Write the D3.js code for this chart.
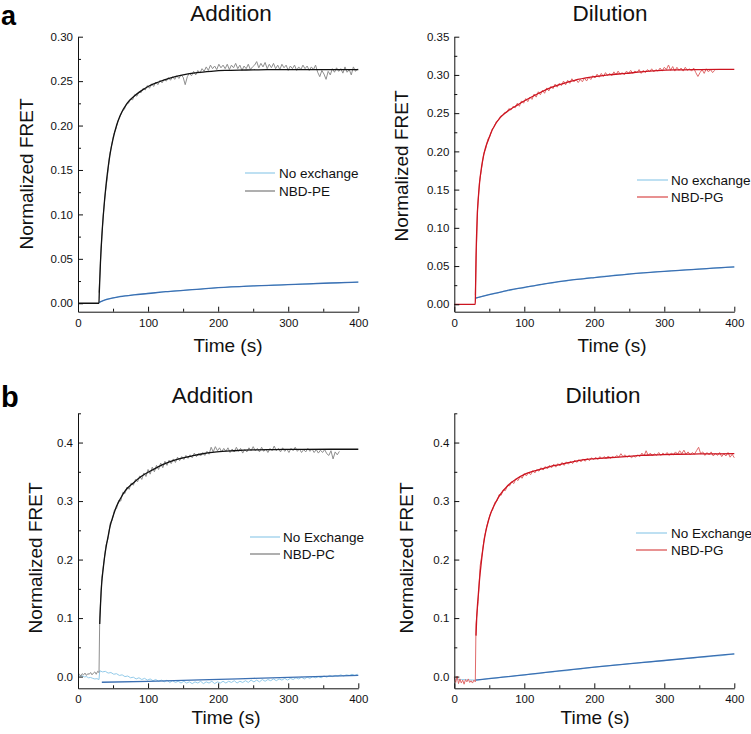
<!DOCTYPE html>
<html><head><meta charset="utf-8">
<script src="https://cdn.jsdelivr.net/npm/d3@7"></script>
<style>
body{margin:0;background:#fff;}
svg{display:block;font-family:"Liberation Sans",Arial,Helvetica,sans-serif;}
</style>
</head><body>
<svg id="chart" width="751" height="734"></svg>
<script>
// ---------------- DATA ----------------
const xTicks = [0, 100, 200, 300, 400];
const xMinor = [50, 150, 250, 350];
const yTicksA1 = [0, 0.05, 0.10, 0.15, 0.20, 0.25, 0.30];
const yMinorA1 = [0.025, 0.075, 0.125, 0.175, 0.225, 0.275];
const yTicksA2 = [0, 0.05, 0.10, 0.15, 0.20, 0.25, 0.30, 0.35];
const yMinorA2 = [0.025, 0.075, 0.125, 0.175, 0.225, 0.275, 0.325];
const yTicksB = [0, 0.1, 0.2, 0.3, 0.4];
const yMinorB = [0.05, 0.15, 0.25, 0.35, 0.45];

const titles = ["Addition", "Dilution", "Addition", "Dilution"];
const legendA1 = ["No exchange", "NBD-PE"];
const legendA2 = ["No exchange", "NBD-PG"];
const legendB1 = ["No Exchange", "NBD-PC"];
const legendB2 = ["No Exchange", "NBD-PG"];

// ---- Panel a, Addition ----
const rawA1Start = 30, rawA1Step = 3;
const rawA1 = [0.012,0.062,0.099,0.124,0.143,0.166,0.178,0.190,0.196,0.205,0.210,0.216,0.218,0.224,0.225,0.230,0.229,0.235,0.233,0.238,
0.237,0.242,0.240,0.245,0.242,0.247,0.244,0.249,0.246,0.251,0.248,0.252,0.250,0.254,0.251,0.255,0.252,0.256,0.253,0.257,
0.2545,0.246,0.255,0.259,0.256,0.261,0.257,0.262,0.259,0.264,0.261,0.266,0.262,0.268,0.264,0.267,0.263,0.269,0.265,0.268,
0.264,0.269,0.263,0.268,0.265,0.270,0.264,0.268,0.262,0.267,0.264,0.269,0.263,0.266,0.268,0.272,0.265,0.270,0.266,0.271,
0.264,0.269,0.265,0.270,0.264,0.268,0.263,0.269,0.265,0.268,0.262,0.267,0.264,0.268,0.262,0.266,0.263,0.268,0.264,0.267,
0.262,0.266,0.263,0.268,0.260,0.255,0.262,0.258,0.252,0.261,0.257,0.264,0.260,0.265,0.261,0.264,0.259,0.266,0.260,0.263,
0.257,0.266,0.261,0.264];
const fitA1T = [0,29.9,30.3,32,34,36,38,40,43,46,50,55,60,70,80,90,100,115,130,150,170,190,210,240,270,300,350,400];
const fitA1V = [0,0,0.010,0.045,0.075,0.098,0.117,0.133,0.153,0.169,0.185,0.200,0.211,0.225,0.233,0.239,0.244,0.249,0.253,0.257,0.2595,0.261,0.262,0.2625,0.263,0.263,0.263,0.263];
const rawA1NoStart = 30, rawA1NoStep = 10;
const rawA1No = [0.0005,0.0045,0.0058,0.0079,0.0084,0.0098,0.0101,0.0113,0.0118,0.0129,0.0131,0.0142,0.0143,0.0153,0.0155,0.0166,0.0167,0.0177,0.0177,0.0186,
0.0186,0.0193,0.0194,0.0200,0.0199,0.0206,0.0205,0.0212,0.0212,0.0218,0.0217,0.0223,0.0223,0.0229,0.0228,0.0234,0.0233,0.0239];
const fitA1NoT = [30,40,50,60,80,100,125,150,175,200,250,300,350,400];
const fitA1NoV = [0.001,0.004,0.006,0.0075,0.0095,0.011,0.013,0.0145,0.016,0.0175,0.0195,0.021,0.0225,0.0237];

// ---- Panel a, Dilution ----
const rawA2Start = 30, rawA2Step = 3;
const rawA2 = [0.012,0.122,0.160,0.178,0.197,0.204,0.216,0.220,0.229,0.232,0.239,0.241,0.246,0.247,0.251,0.251,0.256,0.254,0.259,0.257,
0.263,0.259,0.266,0.263,0.269,0.265,0.271,0.268,0.275,0.271,0.278,0.274,0.280,0.276,0.283,0.279,0.285,0.282,0.288,0.284,
0.289,0.286,0.292,0.287,0.293,0.289,0.295,0.291,0.294,0.290,0.294,0.291,0.296,0.292,0.297,0.294,0.299,0.296,0.301,0.297,
0.302,0.298,0.303,0.299,0.302,0.299,0.304,0.300,0.305,0.301,0.303,0.300,0.305,0.302,0.306,0.302,0.305,0.303,0.307,0.302,
0.306,0.303,0.307,0.304,0.308,0.304,0.307,0.305,0.309,0.305,0.310,0.307,0.313,0.306,0.311,0.305,0.310,0.306,0.309,0.305,
0.310,0.306,0.308,0.305,0.309,0.303,0.298,0.303,0.307,0.302,0.308,0.304,0.307,0.303,0.306];
const fitA2T = [0,29.9,30.2,31,32,33,34,36,39,42,45,48.6,52,58,65,72,80,90,101,113,125,137,149,160,172,195,220,245,267,290,315,350,400];
const fitA2V = [0,0,0.01,0.06,0.095,0.12,0.135,0.158,0.18,0.195,0.206,0.215,0.2235,0.2345,0.2435,0.2495,0.2550,0.2605,0.2665,0.2725,0.278,0.283,0.287,0.290,0.293,0.297,0.300,0.302,0.304,0.3055,0.3065,0.307,0.3073];
const rawA2NoStart = 30, rawA2NoStep = 10;
const rawA2No = [0.0075,0.0105,0.0130,0.0142,0.0170,0.0181,0.0207,0.0215,0.0240,0.0247,0.0270,0.0276,0.0300,0.0303,0.0324,0.0328,0.0346,0.0349,0.0366,0.0369,
0.0384,0.0386,0.0400,0.0402,0.0414,0.0416,0.0428,0.0429,0.0440,0.0441,0.0452,0.0453,0.0463,0.0464,0.0474,0.0474,0.0484,0.0486];
const fitA2NoT = [30,50,75,100,125,150,175,200,250,300,350,400];
const fitA2NoV = [0.008,0.0125,0.018,0.022,0.026,0.0295,0.0325,0.035,0.0395,0.043,0.046,0.049];

// ---- Panel b, Addition ----
const rawB1PreStart = 0, rawB1PreStep = 2;
const rawB1Pre = [0.002,0.004,0.001,0.005,0.003,0.006,0.002,0.005,0.004,0.007,0.003,0.006,0.008,0.004,0.009,0.007];
const rawB1Start = 31, rawB1Step = 3;
const rawB1 = [0.100,0.168,0.196,0.225,0.236,0.262,0.268,0.285,0.287,0.301,0.300,0.315,0.313,0.324,0.320,0.331,0.327,0.337,0.333,0.343,
0.337,0.348,0.342,0.354,0.346,0.358,0.350,0.361,0.354,0.365,0.357,0.368,0.361,0.370,0.364,0.372,0.366,0.375,0.369,0.376,
0.371,0.378,0.373,0.379,0.374,0.382,0.376,0.381,0.377,0.383,0.378,0.385,0.380,0.392,0.384,0.393,0.386,0.391,0.384,0.390,
0.385,0.391,0.383,0.389,0.384,0.392,0.385,0.390,0.382,0.388,0.384,0.391,0.386,0.393,0.386,0.390,0.384,0.392,0.385,0.389,
0.383,0.390,0.386,0.394,0.386,0.390,0.384,0.391,0.385,0.389,0.383,0.390,0.386,0.392,0.385,0.389,0.383,0.388,0.384,0.390,
0.385,0.389,0.383,0.388,0.382,0.387,0.383,0.388,0.381,0.378,0.386,0.372,0.384,0.379,0.385];
const fitB1T = [31,32,33,34,36,38,40,43,46,50,55,60,67,79,90,102.7,115,126,138,150,162,174,198,222,250,280,320,400];
const fitB1V = [0.09,0.12,0.145,0.162,0.185,0.205,0.221,0.240,0.258,0.274,0.291,0.303,0.317,0.331,0.342,0.351,0.359,0.365,0.370,0.374,0.377,0.380,0.384,0.386,0.3875,0.388,0.3885,0.3886];
const rawB1NoPreStart = 0, rawB1NoPreStep = 3;
const rawB1NoPre = [0.002,0.001,0.0015,-0.0005,0.000,-0.002,-0.0015,-0.003,-0.004,-0.0035,-0.005];
const rawB1NoStart = 31, rawB1NoStep = 4;
const rawB1No = [0.010,0.008,0.009,0.006,0.007,0.004,0.005,0.002,0.003,0.000,0.001,-0.002,-0.001,-0.004,-0.002,-0.005,-0.003,-0.006,-0.004,-0.007,
-0.005,-0.008,-0.006,-0.009,-0.006,-0.010,-0.007,-0.010,-0.008,-0.011,-0.008,-0.011,-0.009,-0.012,-0.009,-0.011,-0.008,-0.012,-0.009,-0.011,
-0.008,-0.012,-0.009,-0.011,-0.008,-0.011,-0.008,-0.010,-0.007,-0.011,-0.008,-0.010,-0.007,-0.010,-0.006,-0.009,-0.006,-0.009,-0.005,-0.008,
-0.005,-0.007,-0.004,-0.007,-0.004,-0.006,-0.003,-0.006,-0.003,-0.005,-0.002,-0.004,-0.001,-0.004,-0.001,-0.003,0.000,-0.002,0.000,-0.002,
0.001,-0.001,0.002,0.000,0.002,0.001,0.003,0.001,0.003,0.002,0.004,0.002,0.004];
const fitB1NoT = [34,100,174,250,325,400];
const fitB1NoV = [-0.0097,-0.008,-0.0057,-0.003,-0.0005,0.002];

// ---- Panel b, Dilution ----
const rawB2PreStart = 0, rawB2PreStep = 2;
const rawB2Pre = [-0.002,-0.010,0.001,-0.012,-0.004,-0.011,-0.006,-0.013,-0.005,-0.009,-0.004,-0.010,-0.007,-0.011,-0.006,-0.009];
const rawB2Start = 31, rawB2Step = 3;
const rawB2 = [0.090,0.128,0.190,0.212,0.238,0.255,0.268,0.280,0.286,0.298,0.300,0.311,0.310,0.319,0.318,0.327,0.326,0.333,0.330,0.338,
0.335,0.342,0.339,0.347,0.343,0.349,0.345,0.352,0.348,0.354,0.351,0.357,0.353,0.359,0.355,0.361,0.357,0.363,0.358,0.364,
0.360,0.366,0.361,0.367,0.363,0.368,0.364,0.370,0.366,0.371,0.367,0.372,0.368,0.373,0.369,0.374,0.371,0.375,0.371,0.376,
0.372,0.376,0.373,0.377,0.373,0.376,0.374,0.378,0.375,0.381,0.376,0.379,0.375,0.378,0.374,0.377,0.375,0.379,0.376,0.382,
0.377,0.386,0.378,0.382,0.377,0.381,0.378,0.383,0.378,0.382,0.379,0.383,0.378,0.382,0.379,0.384,0.380,0.386,0.381,0.387,
0.380,0.384,0.379,0.383,0.380,0.386,0.392,0.381,0.384,0.378,0.383,0.379,0.384,0.377,0.382,0.378,0.383,0.376,0.381,0.377,
0.383,0.375,0.380,0.374];
const fitB2T = [31,32,33,34.3,36,39,42,45,48.6,53,58,65,77,89,101,113,125,137,149,160,172,196,220,245,267,290,315,350,400];
const fitB2V = [0.07,0.10,0.12,0.140,0.165,0.200,0.228,0.248,0.266,0.282,0.295,0.310,0.327,0.338,0.346,0.351,0.355,0.359,0.362,0.365,0.368,0.372,0.374,0.376,0.378,0.379,0.380,0.3805,0.381];
const rawB2NoStart = 0, rawB2NoStep = 10;
const rawB2No = [-0.004,-0.005,-0.0055,-0.006,-0.0050,-0.0030,-0.0025,-0.0005,0.000,0.002,0.0028,0.0045,0.005,0.007,0.0078,0.0095,0.010,0.012,0.0128,0.0148,
0.0160,0.0176,0.0185,0.0200,0.0207,0.0222,0.0228,0.0244,0.0250,0.0266,0.0272,0.0288,0.0294,0.0309,0.0314,0.0330,0.0335,0.0351,0.0355,0.0372,0.0385];
const fitB2NoT = [30,100,200,300,400];
const fitB2NoV = [-0.006,0.003,0.0163,0.0275,0.039];

// ---------------- HELPERS ----------------
const seq = (start, step, vals) => vals.map((v, i) => [start + i * step, v]);
const pairs = (ts, vs) => ts.map((t, i) => [t, vs[i]]);

const C = {
  rawBlue: "#93cbea", fitBlue: "#3b6fb2",
  rawGray: "#8e8e8e", fitBlack: "#111111",
  rawRed: "#e06a6a", fitRed: "#cc1420",
  legGray: "#7a7a7a", legRed: "#d94848"
};

const svg = d3.select("#chart");
const FONT = '"Liberation Sans", Arial, Helvetica, sans-serif';

const panels = [
  { x0: 78, x1: 358.3, yTop: 36.7, yBot: 311.7, yDom: [-0.0095, 0.30], yTicks: yTicksA1, yMinor: yMinorA1, fmt: ".2f",
    title: titles[0], tx: 231, ty: 21, timeX: 228, timeY: 352, ylX: 33, ylY: 174,
    series: [
      { d: seq(rawA1NoStart, rawA1NoStep, rawA1No), c: C.rawBlue, w: 1 },
      { d: pairs(fitA1NoT, fitA1NoV), c: C.fitBlue, w: 1.3 },
      { d: seq(rawA1Start, rawA1Step, rawA1), c: C.rawGray, w: 1 },
      { d: pairs(fitA1T, fitA1V), c: C.fitBlack, w: 1.3 }
    ],
    legend: { labels: legendA1, colors: [C.rawBlue, C.legGray], lx0: 245, lx1: 275, tx: 279, y: 173, dy: 18 } },
  { x0: 454.3, x1: 734.3, yTop: 36.7, yBot: 311.7, yDom: [-0.0097, 0.35], yTicks: yTicksA2, yMinor: yMinorA2, fmt: ".2f",
    title: titles[1], tx: 610, ty: 21, timeX: 612, timeY: 352, ylX: 407.5, ylY: 166,
    series: [
      { d: seq(rawA2NoStart, rawA2NoStep, rawA2No), c: C.rawBlue, w: 1 },
      { d: pairs(fitA2NoT, fitA2NoV), c: C.fitBlue, w: 1.3 },
      { d: seq(rawA2Start, rawA2Step, rawA2), c: C.rawRed, w: 1 },
      { d: pairs(fitA2T, fitA2V), c: C.fitRed, w: 1.3 }
    ],
    legend: { labels: legendA2, colors: [C.rawBlue, C.legRed], lx0: 637, lx1: 668, tx: 671, y: 180, dy: 17 } },
  { x0: 78, x1: 358.3, yTop: 413.3, yBot: 688.3, yDom: [-0.02, 0.45], yTicks: yTicksB, yMinor: yMinorB, fmt: ".1f",
    title: titles[2], tx: 212.5, ty: 403, timeX: 226, timeY: 724, ylX: 42, ylY: 558,
    series: [
      { d: seq(rawB1NoPreStart, rawB1NoPreStep, rawB1NoPre).concat(seq(rawB1NoStart, rawB1NoStep, rawB1No)), c: C.rawBlue, w: 1 },
      { d: pairs(fitB1NoT, fitB1NoV), c: C.fitBlue, w: 1.3 },
      { d: seq(rawB1PreStart, rawB1PreStep, rawB1Pre).concat(seq(rawB1Start, rawB1Step, rawB1)), c: C.rawGray, w: 1 },
      { d: pairs(fitB1T, fitB1V), c: C.fitBlack, w: 1.3 }
    ],
    legend: { labels: legendB1, colors: [C.rawBlue, C.legGray], lx0: 250, lx1: 280, tx: 283, y: 537, dy: 17 } },
  { x0: 454.3, x1: 734.3, yTop: 413.3, yBot: 688.3, yDom: [-0.02, 0.45], yTicks: yTicksB, yMinor: yMinorB, fmt: ".1f",
    title: titles[3], tx: 603, ty: 403, timeX: 595, timeY: 724, ylX: 413, ylY: 558,
    series: [
      { d: seq(rawB2NoStart, rawB2NoStep, rawB2No), c: C.rawBlue, w: 1 },
      { d: pairs(fitB2NoT, fitB2NoV), c: C.fitBlue, w: 1.3 },
      { d: seq(rawB2PreStart, rawB2PreStep, rawB2Pre).concat(seq(rawB2Start, rawB2Step, rawB2)), c: C.rawRed, w: 1 },
      { d: pairs(fitB2T, fitB2V), c: C.fitRed, w: 1.3 }
    ],
    legend: { labels: legendB2, colors: [C.rawBlue, C.legRed], lx0: 636, lx1: 667, tx: 671, y: 533, dy: 17 } }
];

panels.forEach(p => {
  const g = svg.append("g");
  const x = d3.scaleLinear().domain([0, 400]).range([p.x0, p.x1]);
  const y = d3.scaleLinear().domain(p.yDom).range([p.yBot, p.yTop]);

  // data lines
  p.series.forEach((s, i) => {
    const isFit = (i % 2 === 1);
    const line = d3.line().x(d => x(d[0])).y(d => y(d[1]))
      .curve(isFit ? d3.curveMonotoneX : d3.curveLinear);
    g.append("path").datum(s.d)
      .attr("d", line).attr("fill", "none")
      .attr("stroke", s.c).attr("stroke-width", s.w)
      .attr("stroke-linejoin", "round");
  });

  // axes (ticks inward)
  const styleAxis = sel => {
    sel.selectAll("text").attr("font-size", 11.5).attr("font-family", FONT).attr("fill", "#111");
    sel.selectAll("line,path").attr("stroke", "#111");
  };
  g.append("g").attr("transform", `translate(0,${p.yBot})`)
    .call(d3.axisBottom(x).tickValues(xTicks).tickSize(-5).tickSizeOuter(0).tickPadding(7).tickFormat(d3.format("d")))
    .call(styleAxis);
  g.append("g").attr("transform", `translate(0,${p.yBot})`)
    .call(d3.axisBottom(x).tickValues(xMinor).tickSize(-3).tickFormat(""))
    .call(s => s.select(".domain").remove()).call(styleAxis);
  g.append("g").attr("transform", `translate(${p.x0},0)`)
    .call(d3.axisLeft(y).tickValues(p.yTicks).tickSize(-5).tickSizeOuter(0).tickPadding(5).tickFormat(d3.format(p.fmt)))
    .call(styleAxis);
  g.append("g").attr("transform", `translate(${p.x0},0)`)
    .call(d3.axisLeft(y).tickValues(p.yMinor).tickSize(-3).tickFormat(""))
    .call(s => s.select(".domain").remove()).call(styleAxis);

  // titles
  g.append("text").attr("x", p.tx).attr("y", p.ty).attr("text-anchor", "middle")
    .attr("font-size", 22.5).attr("font-family", FONT).attr("fill", "#111").text(p.title);
  g.append("text").attr("x", p.timeX).attr("y", p.timeY).attr("text-anchor", "middle")
    .attr("font-size", 19).attr("font-family", FONT).attr("fill", "#111").text("Time (s)");
  g.append("text").attr("transform", `translate(${p.ylX},${p.ylY}) rotate(-90)`).attr("text-anchor", "middle")
    .attr("font-size", 19).attr("font-family", FONT).attr("fill", "#111").text("Normalized FRET");

  // legend
  const L = p.legend;
  L.labels.forEach((lab, i) => {
    const yy = L.y + i * L.dy;
    g.append("line").attr("x1", L.lx0).attr("x2", L.lx1).attr("y1", yy).attr("y2", yy)
      .attr("stroke", L.colors[i]).attr("stroke-width", 1.2);
    g.append("text").attr("x", L.tx).attr("y", yy).attr("dy", "0.35em")
      .attr("font-size", 13.5).attr("font-family", FONT).attr("fill", "#111").text(lab);
  });
});

// panel letters
svg.append("text").attr("x", 1).attr("y", 25).attr("font-size", 27).attr("font-weight", "bold")
  .attr("font-family", FONT).attr("fill", "#000").text("a");
svg.append("text").attr("x", 1).attr("y", 406.5).attr("font-size", 29).attr("font-weight", "bold")
  .attr("font-family", FONT).attr("fill", "#000").text("b");
</script>
</body></html>
